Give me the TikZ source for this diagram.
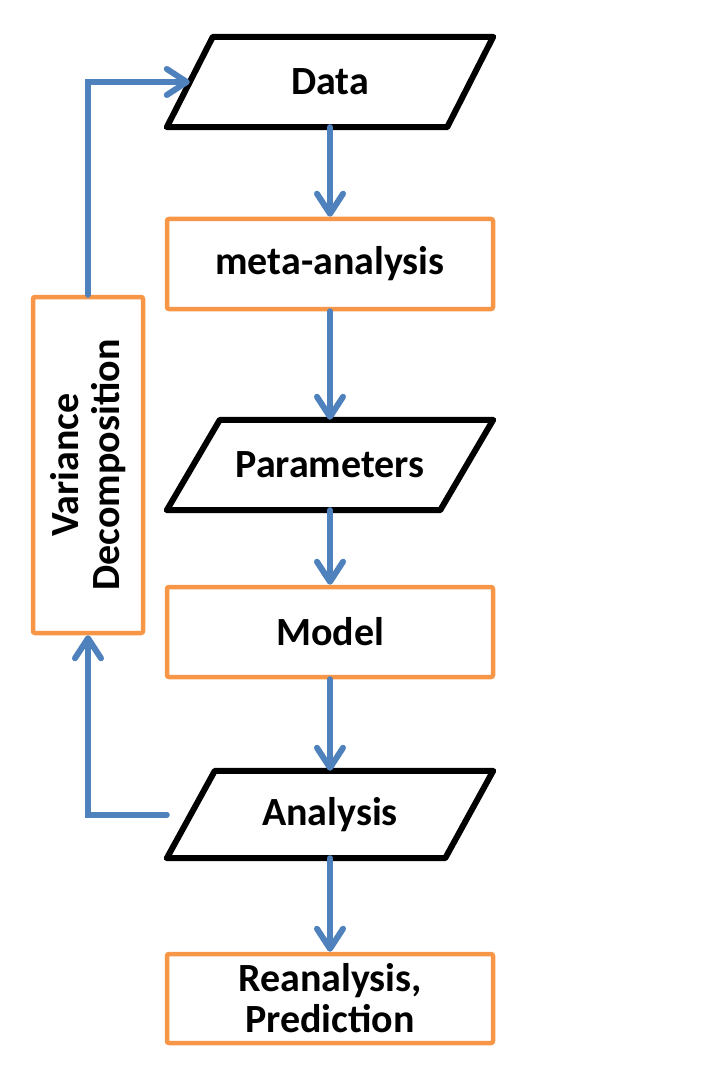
\documentclass[tikz,border=0pt]{standalone}
\usepackage{fontspec}
\setmainfont{Carlito}
\usetikzlibrary{arrows.meta}
\definecolor{ablue}{HTML}{4F81BD}
\definecolor{aorange}{HTML}{F79646}
\begin{document}
\begin{tikzpicture}[x=1pt,y=-1pt,
  txt/.style={font=\fontsize{40}{41}\selectfont\bfseries, text=black},
  box/.style={draw=aorange, line width=4.5pt, rounded corners=2pt, fill=white,
    minimum width=326pt, minimum height=90pt, inner sep=0pt, align=center, txt},
  paraframe/.style={minimum width=326pt, inner sep=0pt, align=center, txt},
  paraline/.style={draw=black, line width=6pt, line join=round},
  arr/.style={draw=ablue, line width=6pt, line cap=round,
    -{Straight Barb[length=20pt,width=26pt,round]}}]
\useasboundingbox (0,0) rectangle (701,1083);
% nodes
\node[paraframe, minimum height=90pt] (data) at (330,82) {Data};
\node[box] (meta) at (330,264) {meta-analysis};
\node[paraframe, minimum height=90pt] (param) at (330,465) {Parameters};
\node[box] (model) at (330,632) {Model};
\node[paraframe, minimum height=87pt] (anal) at (330,814.5) {Analysis};
\node[box, minimum height=89pt] (rean) at (330,998.5) {Reanalysis,\\Prediction};
\node[box, minimum width=336pt, minimum height=110pt, rotate=90] (var) at (88,465) {Variance\\Decomposition};
% parallelograms
\draw[paraline] ([xshift=46pt]data.north west) -- (data.north east) -- ([xshift=-46pt]data.south east) -- (data.south west) -- cycle;
\draw[paraline] ([xshift=53pt]param.north west) -- (param.north east) -- ([xshift=-53pt]param.south east) -- (param.south west) -- cycle;
\draw[paraline] ([xshift=48pt]anal.north west) -- (anal.north east) -- ([xshift=-48pt]anal.south east) -- (anal.south west) -- cycle;
% connectors
\coordinate (dataleft) at ([xshift=23pt]data.west);
\draw[arr] (data.south) -- (meta.north);
\draw[arr] (meta.south) -- (param.north);
\draw[arr] (param.south) -- (model.north);
\draw[arr] (model.south) -- (anal.north);
\draw[arr] (anal.south) -- (rean.north);
\draw[arr] (anal.west) -| (var.west);
\draw[arr] (var.east) |- (dataleft);
\end{tikzpicture}
\end{document}
